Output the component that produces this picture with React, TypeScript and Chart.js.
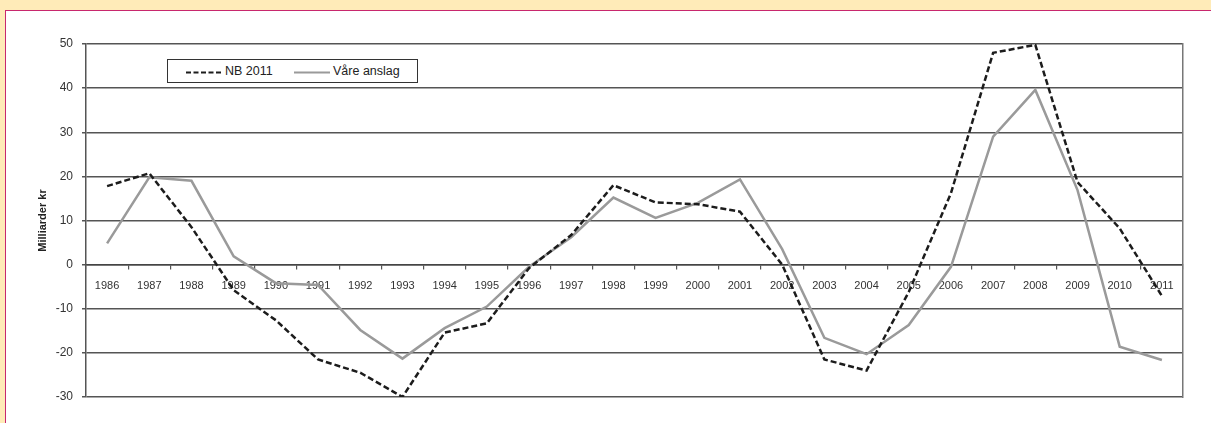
import React, { useEffect, useRef } from "react";
import { Chart, registerables } from "chart.js";

Chart.register(...registerables);

const years = [
  "1986", "1987", "1988", "1989", "1990", "1991", "1992", "1993", "1994",
  "1995", "1996", "1997", "1998", "1999", "2000", "2001", "2002", "2003",
  "2004", "2005", "2006", "2007", "2008", "2009", "2010", "2011",
];

const nb2011 = [
  17.8, 20.7, 8.5, -5.8, -12.6, -21.5, -24.5, -30, -15.4, -13.3, -0.8, 6.7,
  18.0, 14.1, 13.7, 12.0, 0, -21.5, -24.0, -6.2, 16.2, 48.0, 49.8, 18.7, 8.2,
  -7.1,
];

const vareAnslag = [
  4.8, 19.8, 19.0, 1.9, -4.2, -4.6, -14.8, -21.3, -14.4, -9.5, -0.5, 6.2,
  15.2, 10.6, 14.0, 19.3, 3.5, -16.6, -20.3, -13.7, -0.5, 29.0, 39.6, 16.9,
  -18.6, -21.6,
];

const seriesNames = ["NB 2011", "Våre anslag"];
const yTitle = "Milliarder kr";

const FONT = "'Liberation Sans', Arial, sans-serif";

export default function App() {
  const canvasRef = useRef<HTMLCanvasElement | null>(null);

  useEffect(() => {
    if (!canvasRef.current) return;
    const chart = new Chart(canvasRef.current, {
      type: "line",
      data: {
        labels: years,
        datasets: [
          {
            label: seriesNames[0],
            data: nb2011,
            borderColor: "#1c1c1c",
            borderWidth: 2.5,
            borderDash: [6, 3],
            pointRadius: 0,
            tension: 0,
            fill: false,
          },
          {
            label: seriesNames[1],
            data: vareAnslag,
            borderColor: "#9a9a9a",
            borderWidth: 2.5,
            pointRadius: 0,
            tension: 0,
            fill: false,
          },
        ],
      },
      options: {
        animation: false,
        responsive: false,
        maintainAspectRatio: false,
        layout: { padding: { left: 0, top: 44, right: 28, bottom: 26 } },
        plugins: {
          legend: { display: false },
          tooltip: { enabled: false },
        },
        scales: {
          x: {
            type: "category",
            position: { y: 0 } as any,
            offset: true,
            grid: {
              display: true,
              drawOnChartArea: false,
              drawTicks: true,
              tickLength: 4,
              offset: true,
              color: "#555",
              lineWidth: 1.2,
            },
            border: { display: true, color: "#444", width: 1.5 },
            ticks: {
              autoSkip: false,
              maxRotation: 0,
              padding: 11,
              color: "#333",
              font: { family: FONT, size: 11 },
            },
          },
          y: {
            min: -30,
            max: 50,
            ticks: {
              stepSize: 10,
              padding: 9,
              color: "#333",
              font: { family: FONT, size: 12 },
            },
            grid: {
              color: "#555",
              lineWidth: 1.5,
              drawTicks: true,
              tickLength: 4,
            },
            border: { display: true, color: "#555", width: 1.5 },
            title: {
              display: true,
              text: yTitle,
              color: "#222",
              font: { family: FONT, size: 11, weight: "bold" },
              padding: { top: 36, bottom: 0 },
            },
            afterFit: (scale: any) => {
              scale.width = 86;
            },
          },
          y2: {
            position: "right",
            min: -30,
            max: 50,
            ticks: { display: false },
            grid: { drawOnChartArea: false, drawTicks: false },
            border: { display: true, color: "#777", width: 1.5 },
            afterFit: (scale: any) => {
              scale.width = 0;
            },
          },
        },
      },
    });
    return () => chart.destroy();
  }, []);

  return (
    <div
      style={{
        position: "fixed",
        left: 0,
        top: 0,
        width: 1211,
        height: 423,
        background: "#FFEBB8",
        overflow: "hidden",
        fontFamily: FONT,
      }}
    >
      <div
        style={{
          position: "absolute",
          left: 5,
          top: 10,
          width: 1220,
          height: 430,
          background: "#ffffff",
          border: "1px solid #C8286E",
        }}
      />
      <canvas
        ref={canvasRef}
        width={1211}
        height={423}
        style={{ position: "absolute", left: 0, top: 0, width: 1211, height: 423 }}
      />
      <div
        style={{
          position: "absolute",
          left: 167,
          top: 59,
          width: 249,
          height: 22,
          border: "1.5px solid #333",
          background: "#fff",
          fontSize: 12.5,
          color: "#222",
        }}
      >
        <svg
          width={249}
          height={22}
          style={{ position: "absolute", left: 0, top: 0 }}
        >
          <line x1={18} y1={12.5} x2={53} y2={12.5} stroke="#1c1c1c" strokeWidth={2} strokeDasharray="5 2.5" />
          <line x1={126} y1={12.5} x2={162} y2={12.5} stroke="#9a9a9a" strokeWidth={2} />
        </svg>
        <span style={{ position: "absolute", left: 57, top: 4, lineHeight: "14px", whiteSpace: "nowrap" }}>{seriesNames[0]}</span>
        <span style={{ position: "absolute", left: 165, top: 4, lineHeight: "14px", whiteSpace: "nowrap" }}>{seriesNames[1]}</span>
      </div>
    </div>
  );
}
